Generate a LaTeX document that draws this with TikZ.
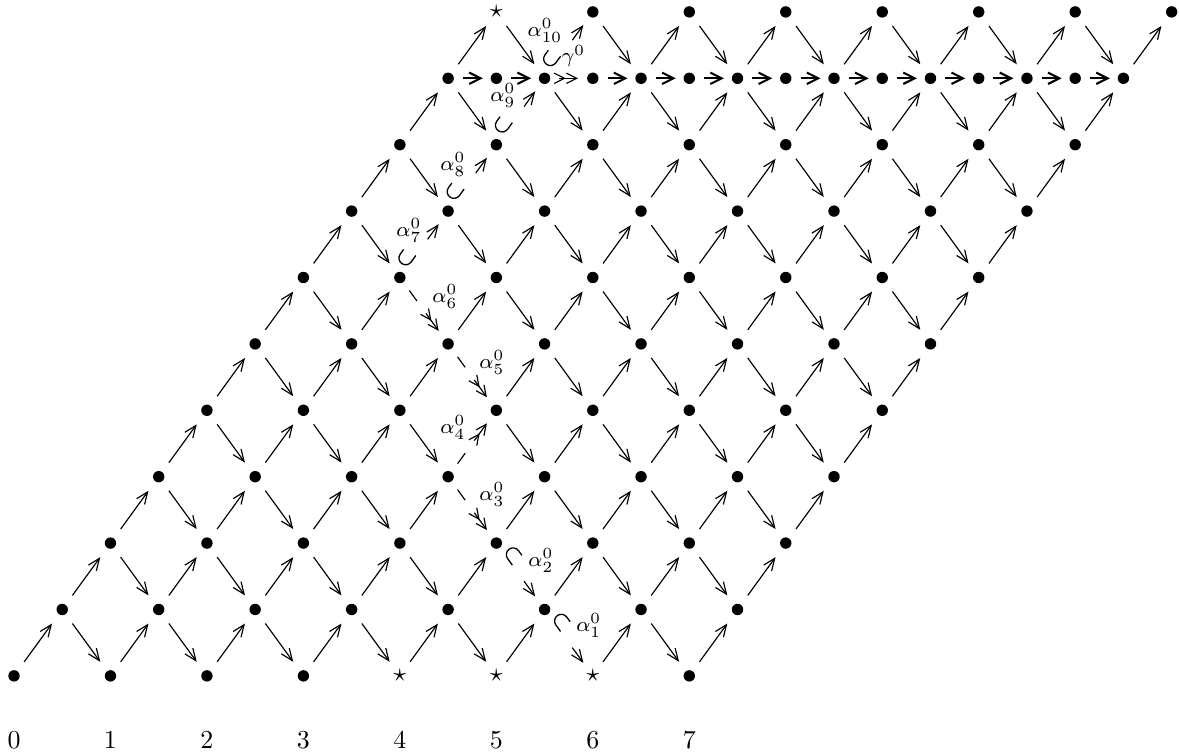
\documentclass[tikz,border=0pt]{standalone}
\usetikzlibrary{arrows.meta}
\expandafter\def\csname st8-0\endcsname{}
\expandafter\def\csname st10-0\endcsname{}
\expandafter\def\csname st12-0\endcsname{}
\expandafter\def\csname st10-10\endcsname{}
\expandafter\def\csname sU9-3\endcsname{}
\expandafter\def\csname sU8-6\endcsname{}
\expandafter\def\csname sU9-7\endcsname{}
\expandafter\def\csname sU10-8\endcsname{}
\expandafter\def\csname sU11-9\endcsname{}
\expandafter\def\csname sD11-1\endcsname{}
\expandafter\def\csname sD10-2\endcsname{}
\expandafter\def\csname sD9-3\endcsname{}
\expandafter\def\csname sD9-5\endcsname{}
\expandafter\def\csname sD8-6\endcsname{}
% hooked arrow: tail node, head node, direction angle
\newcommand\hookarr[3]{%
  \draw[hk] (#1) -- (#2);
  \begin{scope}[shift={(#1.center)},rotate=#3]
    \draw[line width=0.5pt] (10.5pt,0pt) -- (7.4pt,0pt)
      arc[start angle=-90,end angle=-270,radius=2.6pt] -- (9.6pt,5.2pt);
  \end{scope}}
\begin{document}
\begin{tikzpicture}[x=18.62pt,y=25.63pt,
  dotnode/.style={circle,inner sep=0pt,minimum size=13pt},
  ar/.style={line width=0.45pt,-{Straight Barb[length=4.6pt,width=3.8pt]}},
  har/.style={line width=0.8pt,-{Straight Barb[length=4.4pt,width=4.4pt]},shorten <=-1pt,shorten >=-1.5pt},
  hk/.style={line width=0.45pt,dash pattern=on 0pt off 11.5pt on 10pt,
    -{Straight Barb[length=4.6pt,width=3.8pt]},shorten >=-0.5pt},
  dd/.style={line width=0.45pt,dash pattern=on 5pt off 6pt on 30pt,
    -{Straight Barb[length=4pt,width=3.8pt] Straight Barb[length=4pt,width=3.8pt]},shorten <=-0.5pt,shorten >=-0.5pt},
  lab/.style={inner sep=0pt,font=\fontsize{8.3}{10}\selectfont}]
\useasboundingbox (-5.40pt,-30.88pt) rectangle (450.1pt,260.9pt);
% lattice vertices
\foreach \rr in {0,...,10}{
  \foreach \kk in {0,2,...,14}{
    \pgfmathtruncatemacro\cc{\rr+\kk}
    \ifcsname st\cc-\rr\endcsname
      \node[dotnode] (n\cc-\rr) at (\cc,\rr) {$\star$};
    \else
      \node[dotnode] (n\cc-\rr) at (\cc,\rr) {};
      \fill (n\cc-\rr.center) circle (2.2pt);
    \fi
  }
}
\foreach \cc in {10,12,...,22}{
  \node[dotnode] (n\cc-9) at (\cc,9) {};
  \fill (n\cc-9.center) circle (2.2pt);
}
% up-right arrows
\foreach \rr in {0,...,9}{
  \foreach \kk in {0,2,...,14}{
    \pgfmathtruncatemacro\cc{\rr+\kk}
    \pgfmathtruncatemacro\cn{\cc+1}
    \pgfmathtruncatemacro\ru{\rr+1}
    \ifcsname sU\cc-\rr\endcsname\else
      \draw[ar] (n\cc-\rr) -- (n\cn-\ru);
    \fi
  }
}
% down-right arrows
\foreach \rr in {1,...,10}{
  \foreach \kk in {0,2,...,12}{
    \pgfmathtruncatemacro\cc{\rr+\kk}
    \pgfmathtruncatemacro\cn{\cc+1}
    \pgfmathtruncatemacro\rd{\rr-1}
    \ifcsname sD\cc-\rr\endcsname\else
      \draw[ar] (n\cc-\rr) -- (n\cn-\rd);
    \fi
  }
}
% horizontal arrows on row 9
\foreach \cc in {9,10,12,13,14,15,16,17,18,19,20,21,22}{
  \pgfmathtruncatemacro\cn{\cc+1}
  \draw[har] (n\cc-9) -- (n\cn-9);
}
\draw[line width=0.45pt,-{Straight Barb[length=4pt,width=4pt] Straight Barb[length=4pt,width=4pt]},shorten <=-1pt,shorten >=-1pt] (n11-9) -- (n12-9);
% special arrows
\hookarr{n11-1}{n12-0}{-54}
\hookarr{n10-2}{n11-1}{-54}
\draw[dd] (n9-3) -- (n10-2);
\draw[dd] (n9-3) -- (n10-4);
\draw[dd] (n9-5) -- (n10-4);
\draw[dd] (n8-6) -- (n9-5);
\hookarr{n8-6}{n9-7}{54}
\hookarr{n9-7}{n10-8}{54}
\hookarr{n10-8}{n11-9}{54}
\hookarr{n11-9}{n12-10}{54}
% labels
\node[lab] (l10) at (11.005,9.714) {$\alpha^0_{10}$};
\node[lab] (lg) at (11.6,9.337) {$\gamma^0$};
\node[lab] (l9) at (10.135,8.735) {$\alpha^0_{9}$};
\node[lab] (l8) at (9.098,7.696) {$\alpha^0_{8}$};
\node[lab] (l7) at (8.187,6.702) {$\alpha^0_{7}$};
\node[lab] (l6) at (8.933,5.708) {$\alpha^0_{6}$};
\node[lab] (l5) at (9.907,4.714) {$\alpha^0_{5}$};
\node[lab] (l4) at (9.098,3.735) {$\alpha^0_{4}$};
\node[lab] (l3) at (9.907,2.726) {$\alpha^0_{3}$};
\node[lab] (l2) at (10.922,1.732) {$\alpha^0_{2}$};
\node[lab] (l1) at (11.917,0.753) {$\alpha^0_{1}$};
% bottom numbers
\foreach \kk in {0,...,7}{
  \pgfmathtruncatemacro\cc{2*\kk}
  \node (d\kk) at (\cc,-0.964) {\kk};
}
\end{tikzpicture}
\end{document}
